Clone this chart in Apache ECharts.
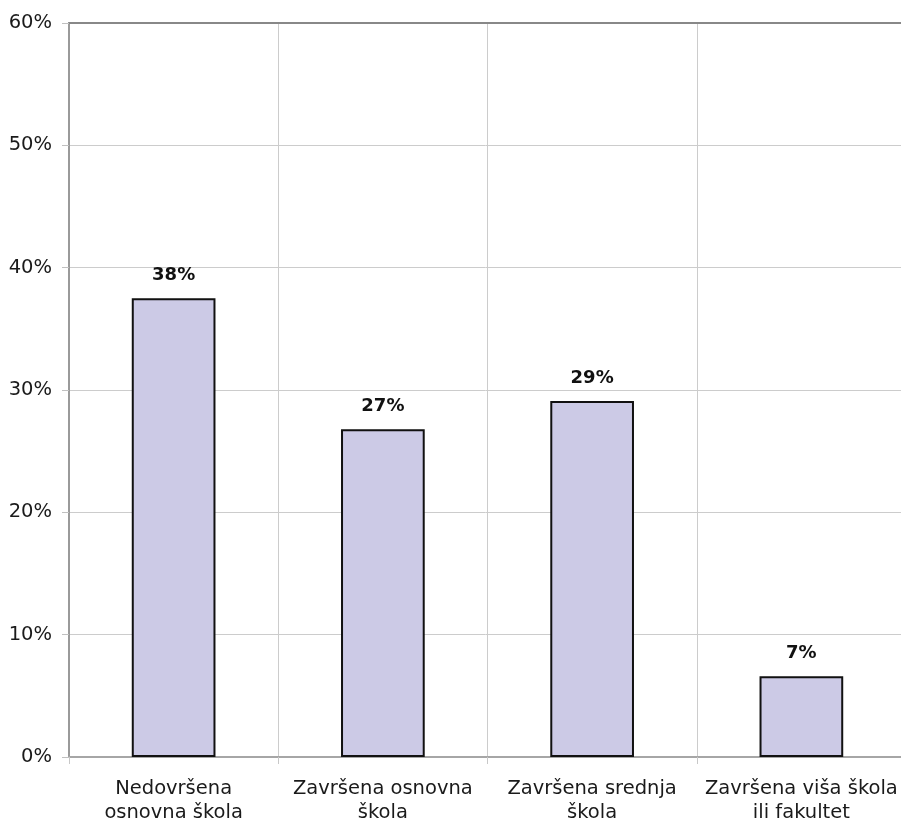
<!DOCTYPE html>
<html>
<head>
<meta charset="utf-8">
<script src="https://cdn.jsdelivr.net/npm/echarts@6/dist/echarts.min.js"></script>
<style>
  html, body { margin: 0; padding: 0; background: #fff; }
  #chart { width: 901px; height: 829px; }
</style>
</head>
<body>
<div id="chart"></div>
<script>
// education level shares (percent)
const categories = [
  "Nedovršena\nosnovna škola",
  "Završena osnovna\nškola",
  "Završena srednja\nškola",
  "Završena viša škola\nili fakultet",
];
const values = [37.5, 26.8, 29.1, 6.6];
const yTicks = { min: 0, max: 60, interval: 10 };

const chart = echarts.init(document.getElementById("chart"), null, { renderer: "canvas" });

const font = "DejaVu Sans";

const option = {
  backgroundColor: "#fff",
  animation: false,
  // plot runs a little past the right edge of the picture
  grid: { left: 69, width: 837, top: 23, bottom: 72, outerBoundsMode: "none" },
  xAxis: [
    {
      type: "category",
      data: categories,
      axisLine: { lineStyle: { color: "#a6a6a6", width: 2 } },
      axisTick: { show: true, interval: 0, length: 7, lineStyle: { color: "#c8c8c8" } },
      axisLabel: {
        interval: 0,
        color: "#1a1a1a",
        fontFamily: font,
        fontSize: 19.5,
        lineHeight: 24,
        margin: 20,
      },
      splitLine: { show: true, interval: 0, lineStyle: { color: "#cccccc", width: 1 } },
    },
    {
      // top border of the plot
      type: "category",
      position: "top",
      data: categories,
      axisLine: { lineStyle: { color: "#888888", width: 2 } },
      axisTick: { show: false },
      axisLabel: { show: false },
    },
  ],
  yAxis: {
    type: "value",
    min: yTicks.min,
    max: yTicks.max,
    interval: yTicks.interval,
    axisLine: { show: true, lineStyle: { color: "#9a9a9a", width: 2 } },
    axisTick: { show: true, length: 7, lineStyle: { color: "#c0c0c0" } },
    axisLabel: {
      formatter: "{value}%",
      color: "#1a1a1a",
      fontFamily: font,
      fontSize: 19.5,
      margin: 17,
    },
    splitLine: { lineStyle: { color: "#cccccc", width: 1 } },
  },
  series: [
    {
      type: "bar",
      data: values,
      barWidth: "40%",
      itemStyle: { color: "#cccae6", borderColor: "#111", borderWidth: 2 },
      label: {
        show: true,
        position: "top",
        distance: 14,
        formatter: (p) => Math.round(p.value) + "%",
        color: "#111",
        fontFamily: font,
        fontWeight: "bold",
        fontSize: 18,
      },
    },
  ],
};

chart.setOption(option);
</script>
</body>
</html>
